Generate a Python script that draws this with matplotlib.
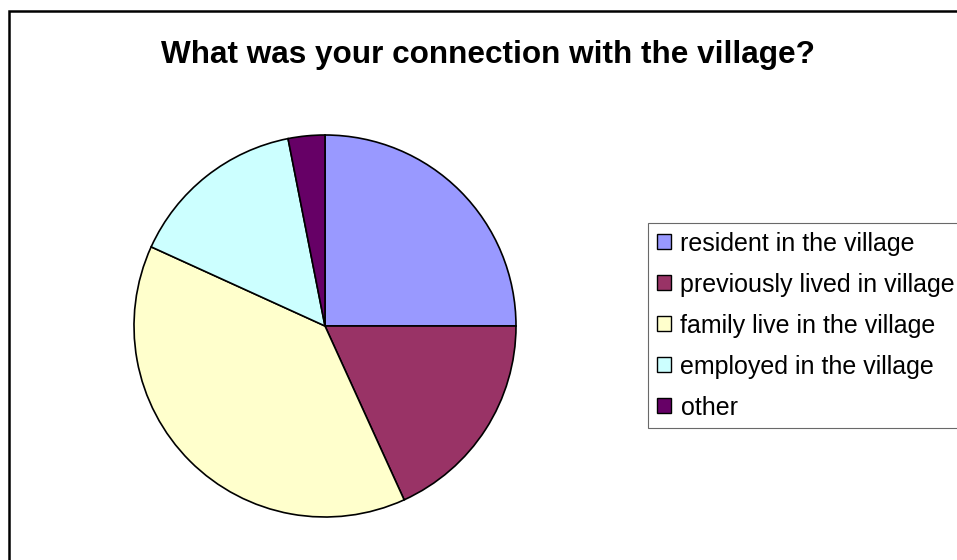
import matplotlib
matplotlib.use("Agg")
import matplotlib.pyplot as plt
from matplotlib.patches import Patch, Rectangle

labels = ["resident in the village", "previously lived in village",
          "family live in the village", "employed in the village", "other"]
values = [25.0, 18.2, 38.6, 15.1, 3.1]
colors = ["#9999FF", "#993366", "#FFFFCC", "#CCFFFF", "#660066"]

plt.rcParams['font.family'] = ['Liberation Sans', 'DejaVu Sans']

W, H = 957, 560
fig = plt.figure(figsize=(W / 100, H / 100), dpi=100)
fig.patch.set_facecolor("white")

# outer chart border (extends past right/bottom edges)
fig.patches.append(Rectangle((9 / W, -0.1), 1.2, 1 - 11 / H + 0.1,
                             transform=fig.transFigure, fill=False,
                             edgecolor="black", linewidth=1.8))

fig.text(488 / W, 1 - 63 / H, "What was your connection with the village?",
         ha="center", va="baseline", fontsize=22.7, fontweight="bold")

cx, cy, r = 325, 326, 191
ax = fig.add_axes([(cx - r) / W, (H - cy - r) / H, 2 * r / W, 2 * r / H])
ax.pie(values, colors=colors, startangle=90, counterclock=False,
       wedgeprops=dict(edgecolor="black", linewidth=1.2, clip_on=False))
ax.set_xlim(-1, 1)
ax.set_ylim(-1, 1)
ax.axis("off")

handles = [Patch(facecolor=c, edgecolor="black", linewidth=1.0) for c in colors]
leg = fig.legend(handles, labels, loc="upper left",
                 bbox_to_anchor=(648 / W, 1 - 223 / H),
                 fontsize=18, frameon=True, fancybox=False,
                 handlelength=0.55, handleheight=0.55, handletextpad=0.4,
                 labelspacing=0.68, borderpad=0.35, borderaxespad=0)
leg.get_frame().set_edgecolor("#444444")
leg.get_frame().set_linewidth(0.8)

fig.savefig("out.png", dpi=100, facecolor="white")
